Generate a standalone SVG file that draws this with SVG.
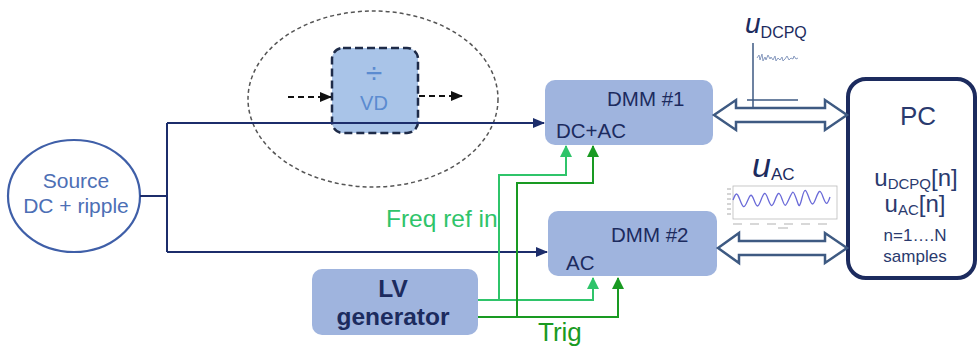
<svg xmlns="http://www.w3.org/2000/svg" width="978" height="347" viewBox="0 0 978 347">
<style>
text{font-family:"Liberation Sans",Arial,sans-serif}
.box{fill:#9fb4de}
.navy{fill:#1c2b5e}
.wire{fill:none;stroke:#1c2d6b;stroke-width:2}
.gl{fill:none;stroke:#2fc46a;stroke-width:2}
.gd{fill:none;stroke:#199a22;stroke-width:2}
.dbl{fill:#fff;stroke:#3e5a82;stroke-width:2.5;stroke-linejoin:miter}
</style>
<defs>
<marker id="aN" markerUnits="userSpaceOnUse" markerWidth="12" markerHeight="12" refX="11" refY="6" orient="auto"><path d="M0,1 L12,6 L0,11 z" fill="#1c2d6b"/></marker>
<marker id="aGL" markerUnits="userSpaceOnUse" markerWidth="12" markerHeight="12" refX="11" refY="6" orient="auto"><path d="M0,0 L12,6 L0,12 z" fill="#2fc46a"/></marker>
<marker id="aGD" markerUnits="userSpaceOnUse" markerWidth="12" markerHeight="12" refX="11" refY="6" orient="auto"><path d="M0,0 L12,6 L0,12 z" fill="#199a22"/></marker>
<marker id="aK" markerUnits="userSpaceOnUse" markerWidth="12" markerHeight="12" refX="11" refY="6" orient="auto"><path d="M0,1 L12,6 L0,11 z" fill="#111"/></marker>
</defs>

<g id="vd-zone">
<ellipse cx="373" cy="99" rx="125" ry="88" fill="none" stroke="#555" stroke-width="1.5" stroke-dasharray="4 3"/>
</g>

<g id="vd">
<rect x="332" y="48" width="86" height="85" rx="11" fill="#a9c4e8" stroke="#1e2b48" stroke-width="2.5" stroke-dasharray="8 4"/>
<text x="374" y="83" font-size="30" fill="#5b8bd0" text-anchor="middle">÷</text>
<text x="374" y="110" font-size="20" fill="#5b8bd0" text-anchor="middle">VD</text>
</g>

<g id="source">
<ellipse cx="74" cy="196" rx="66" ry="56" fill="#fff" stroke="#3f5fa8" stroke-width="2.2"/>
<text x="76" y="188" font-size="21" fill="#4d6fb5" text-anchor="middle">Source</text>
<text x="76" y="213" font-size="21" fill="#4d6fb5" text-anchor="middle">DC + ripple</text>
</g>

<g id="dmm1">
<rect class="box" x="545" y="80" width="168" height="65" rx="10"/>
<text class="navy" x="607" y="106" font-size="20.5">DMM #1</text>
<text class="navy" x="556" y="138" font-size="20.5">DC+AC</text>
</g>

<g id="dmm2">
<rect class="box" x="548" y="211" width="169" height="65" rx="10"/>
<text class="navy" x="611" y="242" font-size="20.5">DMM #2</text>
<text class="navy" x="566" y="270" font-size="20.5">AC</text>
</g>

<g id="lvgen">
<rect class="box" x="312" y="269" width="166" height="66" rx="10"/>
<text class="navy" x="393" y="297" font-size="24.5" font-weight="bold" text-anchor="middle">LV</text>
<text class="navy" x="393" y="325" font-size="24.5" font-weight="bold" text-anchor="middle">generator</text>
</g>

<g id="pc">
<rect x="848" y="79" width="127" height="199" rx="18" fill="#fff" stroke="#1c2b5e" stroke-width="4"/>
<text x="918" y="125" font-size="26" fill="#2a3a6e" text-anchor="middle">PC</text>
<text x="916" y="186" font-size="24" fill="#2a3a6e" text-anchor="middle">u<tspan font-size="15" dy="3">DCPQ</tspan><tspan dy="-3">[n]</tspan></text>
<text x="915" y="212" font-size="24" fill="#2a3a6e" text-anchor="middle">u<tspan font-size="15" dy="3">AC</tspan><tspan dy="-3">[n]</tspan></text>
<text x="915" y="241" font-size="17" fill="#2a3a6e" text-anchor="middle">n=1….N</text>
<text x="915" y="262" font-size="17" fill="#2a3a6e" text-anchor="middle">samples</text>
</g>

<g id="connectors">
<path class="wire" d="M140,196 H167 M167,123 V252"/>
<path class="wire" d="M167,123 H544" marker-end="url(#aN)"/>
<path class="wire" d="M167,252 H547" marker-end="url(#aN)"/>
<path d="M288,97 H331" fill="none" stroke="#111" stroke-width="2" stroke-dasharray="6 4" marker-end="url(#aK)"/>
<path d="M419,96 H462" fill="none" stroke="#111" stroke-width="2" stroke-dasharray="6 4" marker-end="url(#aK)"/>
<path class="gl" d="M478,300 H593 V278" marker-end="url(#aGL)"/>
<path class="gl" d="M499,300 V175 H566 V146" marker-end="url(#aGL)"/>
<path class="gd" d="M478,317 H618 V278" marker-end="url(#aGD)"/>
<path class="gd" d="M517,317 V183 H593 V146" marker-end="url(#aGD)"/>
<polygon class="dbl" points="714,115 736,100 736,108 825,108 825,100 847,115 825,130 825,122 736,122 736,130"/>
<polygon class="dbl" points="718,248 739,233 739,241 825,241 825,233 847,248 825,263 825,255 739,255 739,263"/>
</g>

<g id="labels">
<text x="386" y="227" font-size="24.5" fill="#2fc46a">Freq ref in</text>
<text x="538" y="341" font-size="26" fill="#199a22">Trig</text>
</g>

<g id="udcpq">
<text x="745" y="33" font-size="28" font-style="italic" fill="#1c2b5e">u<tspan font-size="16" font-style="normal" dy="5">DCPQ</tspan></text>
<path d="M753,43 V108 M747,100 H798" fill="none" stroke="#3e5a82" stroke-width="1.5"/>
<path d="M757,58 l2,-3 l1,5 l2,-6 l1,7 l2,-4 l1,3 l2,-5 l2,4 l1,-2 l2,3 l2,-4 l1,5 l2,-3 l2,2 l2,-3 l1,4 l2,-2 l2,-3 l2,4 l2,-2 l2,1 l1,-3 l2,3 l2,-1" fill="none" stroke="#8a9cc0" stroke-width="1"/>
</g>

<g id="uac">
<text x="752" y="177" font-size="34" font-style="italic" fill="#1c2b5e">u<tspan font-size="17" font-style="normal" dy="3">AC</tspan></text>
<rect x="733" y="186" width="104" height="33" fill="#fff" stroke="#bbb" stroke-width="0.8"/>
<path d="M727,189 h4 M727,194 h4 M727,199 h4 M727,204 h4 M727,209 h4 M727,214 h4" stroke="#aaa" stroke-width="1"/>
<path d="M733,224 h9 M750,224 h9 M767,224 h9 M784,224 h9 M801,224 h9 M818,224 h9 M778,228 h10" stroke="#ccc" stroke-width="1.5"/>
<path d="M733,200 c3,-8 4,-8 7,0 s4,9 7,2 s4,-10 7,-2 s4,8 7,0 s4,-9 7,-1 s4,9 7,1 s4,-9 7,-1 s3,9 7,0 s4,-9 7,-1 s3,12 6,0 s4,-8 7,0 s4,8 7,0 s4,-9 7,-1 s4,9 7,0" fill="none" stroke="#6a6ad8" stroke-width="1.3"/>
</g>
</svg>
